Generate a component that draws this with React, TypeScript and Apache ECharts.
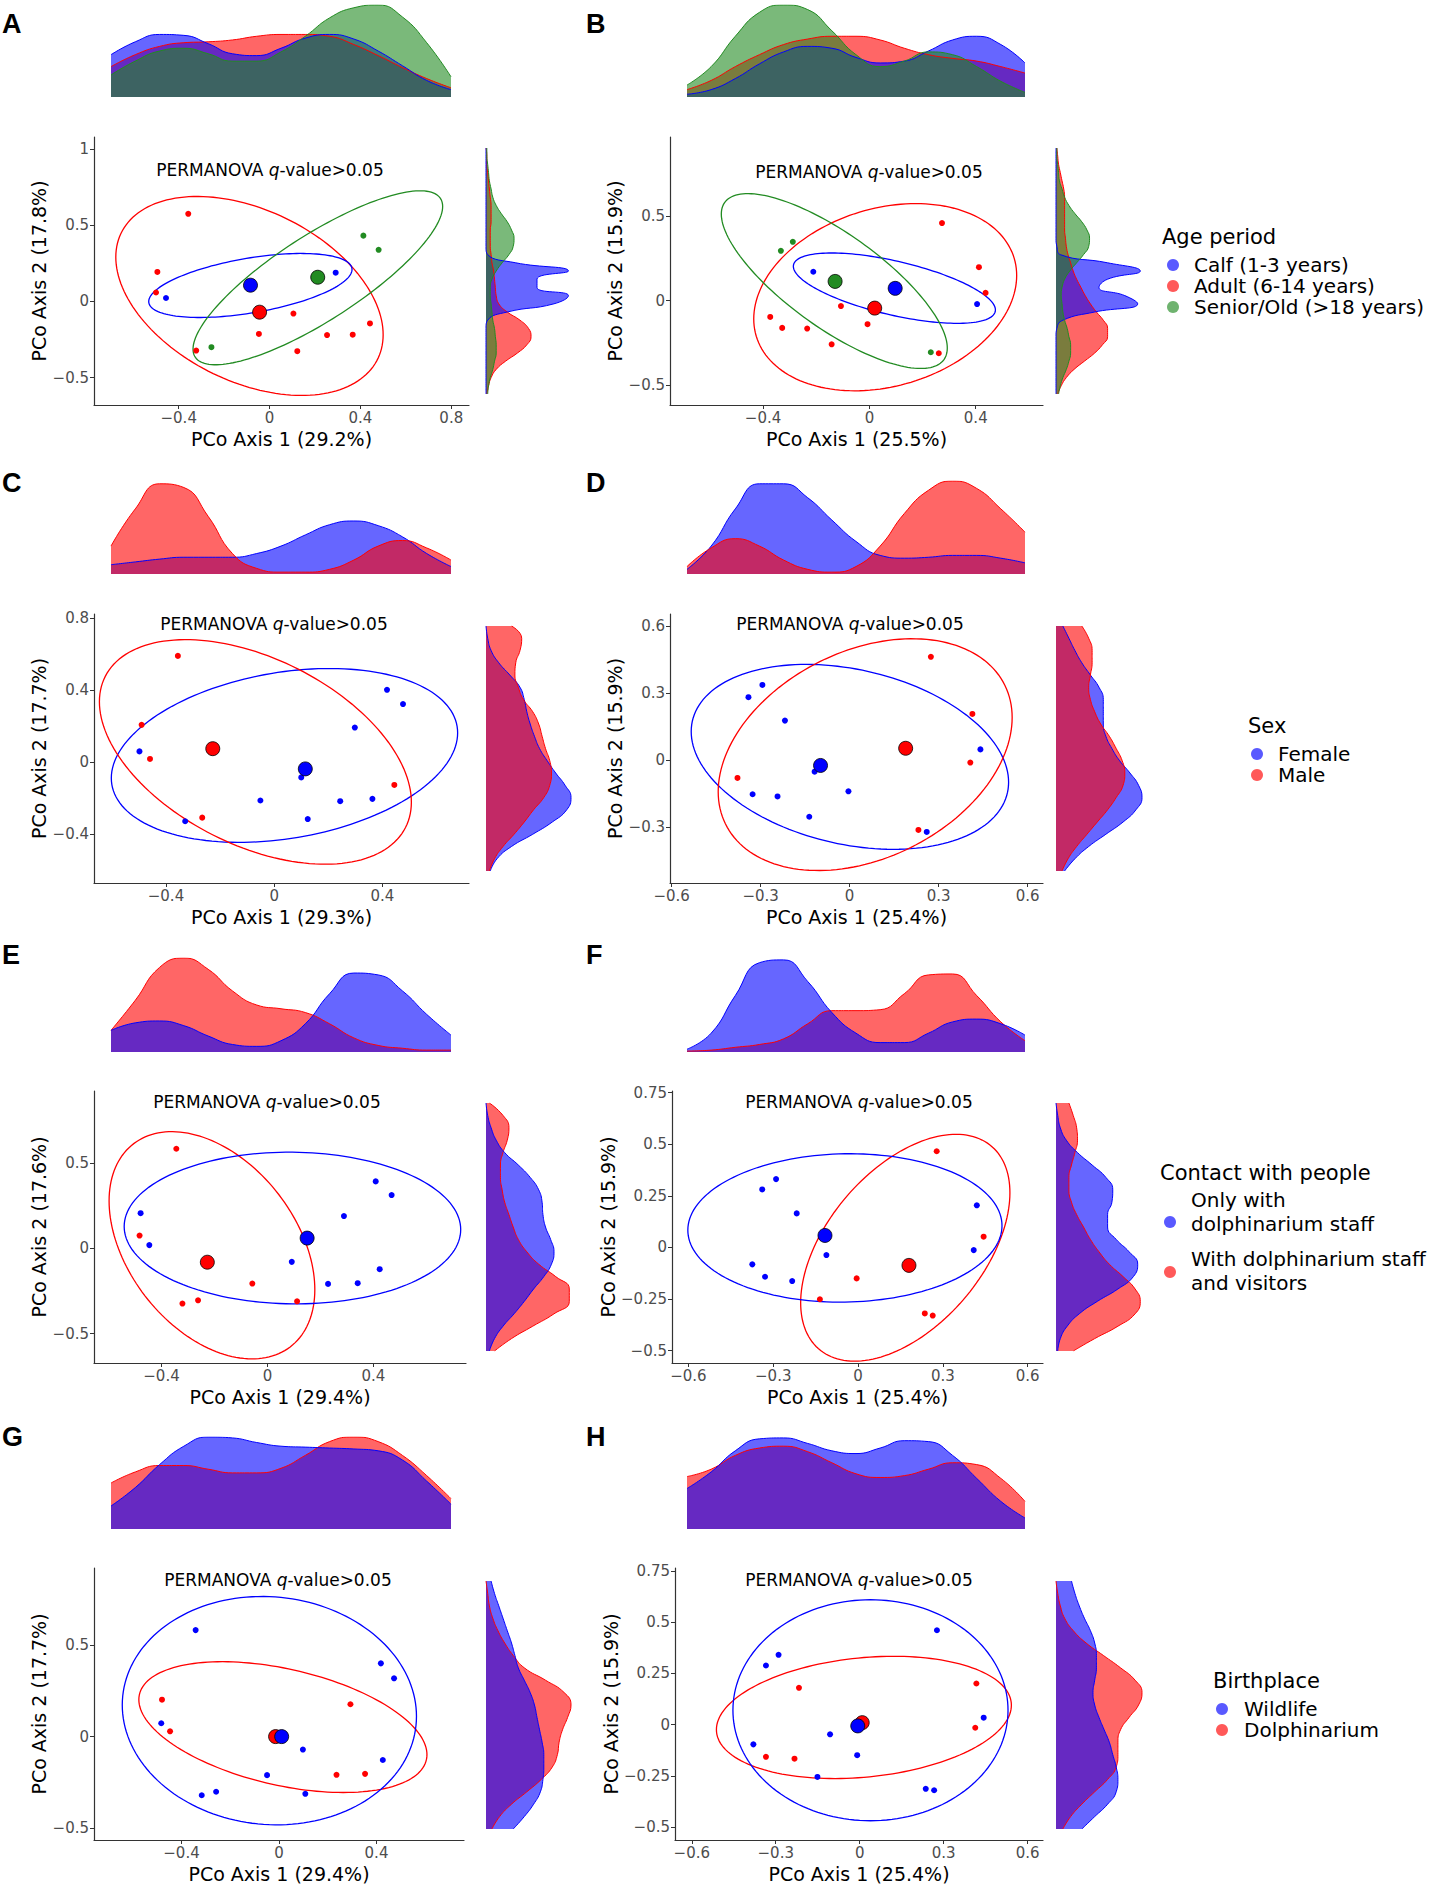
import React, { useEffect, useRef } from "react";
import * as echarts from "echarts";

const BLUE = "#0000FF";
const RED = "#FF0000";
const GREEN = "#228B22";
const FONT = "DejaVu Sans";

// ---------- Panel A (Age period, axis 29.2% / 17.8%) ----------
const A_calf = [[-0.456, 0.022], [0.291, 0.188]];
const A_adult = [[-0.358, 0.574], [-0.494, 0.193], [-0.5, 0.058], [0.105, -0.08], [-0.047, -0.214], [0.253, -0.221], [0.366, -0.219], [0.442, -0.145], [-0.323, -0.323], [0.122, -0.327]];
const A_senior = [[0.413, 0.431], [0.48, 0.338], [-0.256, -0.301]];
const A_cen = { calf: [-0.084, 0.106], adult: [-0.044, -0.071], senior: [0.212, 0.158] };
const A_ell = { adult: [-0.0885, 0.0355, 0.5885, 0.6525, -0.39], calf: [-0.0845, 0.104, 0.4475, 0.21, 0.5], senior: [0.2125, 0.1545, 0.5495, 0.5705, 0.82] };
const A_topAdult = [0.33, 0.46, 0.55, 0.59, 0.6, 0.62, 0.66, 0.68, 0.68, 0.66, 0.57, 0.45, 0.32, 0.2, 0.1];
const A_topCalf = [0.46, 0.6, 0.68, 0.67, 0.58, 0.47, 0.45, 0.53, 0.64, 0.68, 0.63, 0.5, 0.34, 0.18, 0.08];
const A_topSenior = [0.24, 0.39, 0.5, 0.53, 0.47, 0.39, 0.39, 0.49, 0.66, 0.86, 0.97, 1.0, 0.87, 0.59, 0.22];
const A_rightAdult = [0, 0.01, 0.01, 0.02, 0.03, 0.04, 0.05, 0.06, 0.06, 0.06, 0.05, 0.05, 0.05, 0.06, 0.07, 0.09, 0.1, 0.11, 0.12, 0.15, 0.25, 0.4, 0.5, 0.53, 0.48, 0.37, 0.23, 0.12, 0.06, 0.03, 0.01];
const A_rightCalf = [0, 0, 0, 0, 0, 0, 0, 0, 0, 0, 0, 0, 0, 0.02, 0.35, 0.97, 0.6, 0.6, 0.97, 0.8, 0.25, 0.02, 0, 0, 0, 0, 0, 0, 0, 0, 0];
const A_rightSenior = [0.01, 0.01, 0.02, 0.03, 0.04, 0.06, 0.08, 0.12, 0.18, 0.25, 0.3, 0.33, 0.32, 0.27, 0.19, 0.12, 0.07, 0.05, 0.05, 0.06, 0.07, 0.08, 0.1, 0.11, 0.12, 0.12, 0.1, 0.08, 0.05, 0.03, 0.02];

// ---------- Panel B (Age period, 25.5% / 15.9%) ----------
const B_calf = [[-0.211, 0.17], [0.405, -0.021]];
const B_adult = [[0.273, 0.458], [0.412, 0.197], [0.437, 0.045], [-0.107, -0.033], [-0.007, -0.14], [-0.373, -0.097], [-0.328, -0.162], [-0.234, -0.166], [-0.142, -0.259], [0.261, -0.312]];
const B_senior = [[-0.288, 0.347], [-0.333, 0.294], [0.231, -0.306]];
const B_cen = { calf: [0.097, 0.072], adult: [0.02, -0.045], senior: [-0.129, 0.113] };
const B_ell = { adult: [0.0595, 0.0195, 0.4945, 0.5535, 0.232], calf: [0.094, 0.073, 0.38, 0.208, -0.62], senior: [-0.132, 0.115, 0.425, 0.517, -0.766] };
const B_topAdult = [0.08, 0.18, 0.33, 0.46, 0.57, 0.63, 0.66, 0.66, 0.62, 0.53, 0.46, 0.42, 0.39, 0.33, 0.26];
const B_topCalf = [0.03, 0.08, 0.2, 0.36, 0.49, 0.55, 0.53, 0.43, 0.37, 0.39, 0.5, 0.62, 0.66, 0.57, 0.37];
const B_topSenior = [0.13, 0.33, 0.66, 0.92, 1.0, 0.95, 0.72, 0.46, 0.33, 0.39, 0.49, 0.46, 0.33, 0.17, 0.05];
const B_rightAdult = [0.01, 0.02, 0.03, 0.05, 0.07, 0.09, 0.1, 0.1, 0.1, 0.1, 0.1, 0.11, 0.12, 0.14, 0.17, 0.2, 0.24, 0.29, 0.34, 0.4, 0.47, 0.55, 0.6, 0.6, 0.54, 0.45, 0.33, 0.21, 0.12, 0.06, 0.02];
const B_rightCalf = [0, 0, 0, 0, 0, 0, 0, 0, 0, 0, 0, 0, 0.01, 0.05, 0.6, 0.98, 0.6, 0.5, 0.8, 0.95, 0.45, 0.08, 0.01, 0, 0, 0, 0, 0, 0, 0, 0];
const B_rightSenior = [0.01, 0.01, 0.02, 0.03, 0.04, 0.07, 0.1, 0.15, 0.22, 0.3, 0.36, 0.39, 0.38, 0.32, 0.24, 0.16, 0.1, 0.07, 0.06, 0.07, 0.08, 0.1, 0.13, 0.15, 0.17, 0.17, 0.15, 0.12, 0.08, 0.05, 0.03];

// ---------- Panel C (Sex, 29.3% / 17.7%) ----------
const C_female = [[-0.498, 0.06], [-0.329, -0.327], [-0.051, -0.212], [0.1, -0.084], [0.124, -0.315], [0.244, -0.216], [0.298, 0.192], [0.363, -0.203], [0.417, 0.401], [0.476, 0.322]];
const C_male = [[-0.356, 0.589], [-0.49, 0.207], [-0.459, 0.018], [-0.266, -0.307], [0.444, -0.126]];
const C_cen = { female: [0.115, -0.037], male: [-0.227, 0.075] };
const C_ell = { male: [-0.0695, 0.057, 0.5765, 0.622, -0.447], female: [0.038, 0.0375, 0.64, 0.4815, 0.26] };
const C_topFemale = [0.1, 0.13, 0.16, 0.18, 0.18, 0.18, 0.22, 0.3, 0.42, 0.53, 0.57, 0.52, 0.4, 0.22, 0.08];
const C_topMale = [0.3, 0.7, 0.97, 0.93, 0.62, 0.22, 0.06, 0.02, 0.02, 0.05, 0.15, 0.3, 0.36, 0.28, 0.15];
const C_rightFemale = [0, 0.02, 0.06, 0.15, 0.28, 0.4, 0.45, 0.48, 0.52, 0.57, 0.63, 0.72, 0.82, 0.93, 1.0, 0.95, 0.78, 0.55, 0.3, 0.13, 0.05];
const C_rightMale = [0.3, 0.42, 0.4, 0.35, 0.34, 0.38, 0.44, 0.55, 0.62, 0.66, 0.7, 0.75, 0.77, 0.75, 0.68, 0.56, 0.45, 0.33, 0.2, 0.1, 0.04];

// ---------- Panel D (Sex, 25.4% / 15.9%) ----------
const D_female = [[-0.341, 0.281], [-0.294, 0.336], [-0.218, 0.176], [-0.327, -0.154], [-0.243, -0.164], [-0.136, -0.255], [-0.004, -0.141], [0.26, -0.323], [0.441, 0.047], [-0.118, -0.053]];
const D_male = [[0.274, 0.462], [0.414, 0.206], [0.407, -0.012], [-0.378, -0.081], [0.232, -0.314]];
const D_cen = { female: [-0.098, -0.025], male: [0.189, 0.052] };
const D_ell = { female: [0.001, 0.0135, 0.535, 0.4145, -0.274], male: [0.0525, 0.0235, 0.4955, 0.5195, 0.32] };
const D_topFemale = [0.05, 0.3, 0.7, 0.97, 0.97, 0.82, 0.58, 0.35, 0.2, 0.17, 0.18, 0.2, 0.2, 0.17, 0.12];
const D_topMale = [0.08, 0.28, 0.38, 0.3, 0.15, 0.05, 0.02, 0.08, 0.3, 0.65, 0.9, 1.0, 0.92, 0.7, 0.45];
const D_rightFemale = [0.08, 0.15, 0.22, 0.3, 0.4, 0.5, 0.55, 0.55, 0.55, 0.58, 0.65, 0.74, 0.86, 0.96, 1.0, 0.93, 0.78, 0.58, 0.38, 0.22, 0.1];
const D_rightMale = [0.3, 0.38, 0.42, 0.42, 0.4, 0.38, 0.4, 0.45, 0.52, 0.62, 0.7, 0.77, 0.8, 0.78, 0.7, 0.6, 0.48, 0.36, 0.24, 0.14, 0.07];

// ---------- Panel E (Contact, 29.4% / 17.6%) ----------
const E_staff = [[-0.479, 0.205], [-0.446, 0.018], [0.092, -0.08], [0.229, -0.209], [0.341, -0.205], [0.424, -0.123], [0.289, 0.188], [0.409, 0.391], [0.469, 0.311]];
const E_visitors = [[-0.344, 0.582], [-0.483, 0.074], [-0.057, -0.207], [-0.321, -0.324], [-0.262, -0.305], [0.112, -0.311]];
const E_cen = { staff: [0.15, 0.059], visitors: [-0.227, -0.082] };
const E_ell = { visitors: [-0.2095, 0.017, 0.3885, 0.665, -0.39], staff: [0.0945, 0.118, 0.6355, 0.444, -0.02] };
const E_topVisitors = [0.23, 0.55, 0.9, 1.0, 0.88, 0.65, 0.5, 0.46, 0.42, 0.3, 0.15, 0.07, 0.04, 0.02, 0.02];
const E_topStaff = [0.23, 0.31, 0.33, 0.28, 0.17, 0.08, 0.06, 0.12, 0.3, 0.62, 0.84, 0.82, 0.65, 0.4, 0.18];
const E_rightVisitors = [0.04, 0.2, 0.27, 0.25, 0.2, 0.17, 0.17, 0.19, 0.22, 0.27, 0.32, 0.38, 0.48, 0.62, 0.82, 0.98, 0.98, 0.8, 0.55, 0.3, 0.1];
const E_rightStaff = [0, 0.02, 0.06, 0.12, 0.22, 0.38, 0.52, 0.62, 0.66, 0.67, 0.7, 0.76, 0.8, 0.77, 0.68, 0.56, 0.45, 0.33, 0.2, 0.1, 0.04];

// ---------- Panel F (Contact, 25.4% / 15.9%) ----------
const F_staff = [[-0.339, 0.281], [-0.29, 0.331], [-0.217, 0.165], [-0.374, -0.082], [-0.329, -0.142], [-0.233, -0.163], [-0.112, -0.037], [0.42, 0.204], [0.409, -0.013]];
const F_visitors = [[0.278, 0.466], [0.444, 0.052], [-0.005, -0.15], [-0.135, -0.251], [0.236, -0.32], [0.264, -0.33]];
const F_cen = { staff: [-0.117, 0.058], visitors: [0.18, -0.087] };
const F_ell = { staff: [-0.0465, 0.0945, 0.5555, 0.3595, 0.03], visitors: [0.167, -0.0015, 0.37, 0.5495, 0.485] };
const F_topVisitors = [0.01, 0.02, 0.05, 0.08, 0.14, 0.3, 0.44, 0.44, 0.45, 0.62, 0.82, 0.83, 0.6, 0.32, 0.12];
const F_topStaff = [0.03, 0.2, 0.6, 0.95, 0.98, 0.75, 0.42, 0.2, 0.1, 0.1, 0.2, 0.32, 0.35, 0.3, 0.18];
const F_rightVisitors = [0.15, 0.2, 0.24, 0.25, 0.22, 0.18, 0.15, 0.15, 0.18, 0.24, 0.32, 0.4, 0.5, 0.62, 0.78, 0.92, 0.98, 0.92, 0.72, 0.45, 0.2];
const F_rightStaff = [0, 0.02, 0.05, 0.12, 0.25, 0.42, 0.58, 0.66, 0.65, 0.6, 0.6, 0.7, 0.85, 0.95, 0.9, 0.72, 0.48, 0.27, 0.13, 0.05, 0.02];

// ---------- Panel G (Birthplace, 29.4% / 17.7%) ----------
const G_wild = [[-0.342, 0.583], [0.418, 0.401], [0.472, 0.319], [-0.483, 0.073], [0.098, -0.071], [0.426, -0.128], [-0.049, -0.211], [-0.317, -0.321], [-0.258, -0.302], [0.108, -0.313]];
const G_dolph = [[-0.48, 0.202], [-0.447, 0.029], [0.293, 0.177], [0.236, -0.209], [0.353, -0.204]];
const G_cen = { wild: [0.011, 0.0], dolph: [-0.014, 0.0] };
const G_ell = { wild: [-0.0395, 0.142, 0.6035, 0.625, -0.05], dolph: [0.016, 0.052, 0.591, 0.358, -0.42] };
const G_topDolph = [0.5, 0.62, 0.69, 0.69, 0.65, 0.61, 0.61, 0.66, 0.8, 0.95, 1.0, 0.95, 0.8, 0.58, 0.33];
const G_topWild = [0.25, 0.45, 0.7, 0.9, 1.0, 0.99, 0.94, 0.9, 0.89, 0.88, 0.87, 0.85, 0.75, 0.52, 0.27];
const G_rightDolph = [0, 0.02, 0.04, 0.08, 0.14, 0.22, 0.32, 0.45, 0.7, 0.92, 1.0, 0.96, 0.9, 0.86, 0.84, 0.78, 0.65, 0.48, 0.3, 0.16, 0.07];
const G_rightWild = [0.06, 0.1, 0.15, 0.2, 0.25, 0.3, 0.34, 0.38, 0.45, 0.52, 0.57, 0.6, 0.63, 0.66, 0.68, 0.68, 0.67, 0.64, 0.56, 0.45, 0.32];

// ---------- Panel H (Birthplace, 25.4% / 15.9%) ----------
const H_wild = [[0.276, 0.461], [-0.29, 0.341], [-0.335, 0.289], [0.443, 0.034], [-0.106, -0.047], [-0.38, -0.096], [-0.009, -0.149], [-0.151, -0.255], [0.236, -0.313], [0.266, -0.32]];
const H_dolph = [[-0.217, 0.18], [0.417, 0.201], [0.413, -0.015], [-0.335, -0.157], [-0.233, -0.166]];
const H_cen = { wild: [-0.007, -0.006], dolph: [0.009, 0.01] };
const H_ell = { wild: [0.0385, 0.0705, 0.4915, 0.5395, 0.0], dolph: [0.015, 0.0355, 0.527, 0.2985, 0.2] };
const H_topDolph = [0.57, 0.65, 0.8, 0.88, 0.9, 0.84, 0.72, 0.6, 0.56, 0.58, 0.65, 0.72, 0.7, 0.55, 0.3];
const H_topWild = [0.44, 0.62, 0.85, 0.98, 0.99, 0.93, 0.85, 0.82, 0.88, 0.96, 0.95, 0.8, 0.55, 0.3, 0.12];
const H_rightDolph = [0, 0.02, 0.05, 0.1, 0.2, 0.35, 0.55, 0.75, 0.92, 1.0, 0.96, 0.85, 0.75, 0.72, 0.72, 0.7, 0.6, 0.45, 0.3, 0.17, 0.08];
const H_rightWild = [0.18, 0.22, 0.27, 0.33, 0.4, 0.45, 0.47, 0.47, 0.45, 0.43, 0.45, 0.5, 0.56, 0.62, 0.66, 0.7, 0.72, 0.7, 0.6, 0.45, 0.3];

// ---------- axis ranges & ticks ----------
const A_xRange = [-0.773, 0.878], A_yRange = [-0.68, 1.078];
const B_xRange = [-0.75, 0.653], B_yRange = [-0.618, 0.967];
const C_xRange = [-0.666, 0.72], C_yRange = [-0.669, 0.821];
const D_xRange = [-0.6055, 0.652], D_yRange = [-0.552, 0.654];
const E_xRange = [-0.655, 0.75], E_yRange = [-0.672, 0.92];
const F_xRange = [-0.658, 0.654], F_yRange = [-0.56, 0.758];
const G_xRange = [-0.759, 0.759], G_yRange = [-0.566, 0.923];
const H_xRange = [-0.66, 0.655], H_yRange = [-0.563, 0.765];
const ticksX4 = [-0.4, 0, 0.4];
const ticksX8 = [-0.4, 0, 0.4, 0.8];
const ticksX3 = [-0.6, -0.3, 0, 0.3, 0.6];
const ticksY5 = [-0.5, 0, 0.5];
const ticksY5b = [-0.5, 0, 0.5, 1];
const ticksY4 = [-0.4, 0, 0.4, 0.8];
const ticksY3 = [-0.3, 0, 0.3, 0.6];
const ticksY25 = [-0.5, -0.25, 0, 0.25, 0.5, 0.75];

type G = { color: string; pts: number[][]; cen: number[]; ell: number[]; top: number[]; right: number[] };
type Box = { left: number; top: number; width: number; height: number };
type P = {
  letter: string; xName: string; yName: string; xRange: number[]; yRange: number[]; xTicks: number[]; yTicks: number[];
  sc: Box; tp: Box; rt: Box; letterPos: number[]; permPos: number[]; densOrder: G[]; ptOrder: G[];
};

const mk = (color: string, pts: number[][], cen: number[], ell: number[], top: number[], right: number[]): G => ({ color, pts, cen, ell, top, right });

function buildPanels(): P[] {
  const aCalf = mk(BLUE, A_calf, A_cen.calf, A_ell.calf, A_topCalf, A_rightCalf);
  const aAdult = mk(RED, A_adult, A_cen.adult, A_ell.adult, A_topAdult, A_rightAdult);
  const aSen = mk(GREEN, A_senior, A_cen.senior, A_ell.senior, A_topSenior, A_rightSenior);
  const bCalf = mk(BLUE, B_calf, B_cen.calf, B_ell.calf, B_topCalf, B_rightCalf);
  const bAdult = mk(RED, B_adult, B_cen.adult, B_ell.adult, B_topAdult, B_rightAdult);
  const bSen = mk(GREEN, B_senior, B_cen.senior, B_ell.senior, B_topSenior, B_rightSenior);
  const cF = mk(BLUE, C_female, C_cen.female, C_ell.female, C_topFemale, C_rightFemale);
  const cM = mk(RED, C_male, C_cen.male, C_ell.male, C_topMale, C_rightMale);
  const dF = mk(BLUE, D_female, D_cen.female, D_ell.female, D_topFemale, D_rightFemale);
  const dM = mk(RED, D_male, D_cen.male, D_ell.male, D_topMale, D_rightMale);
  const eS = mk(BLUE, E_staff, E_cen.staff, E_ell.staff, E_topStaff, E_rightStaff);
  const eV = mk(RED, E_visitors, E_cen.visitors, E_ell.visitors, E_topVisitors, E_rightVisitors);
  const fS = mk(BLUE, F_staff, F_cen.staff, F_ell.staff, F_topStaff, F_rightStaff);
  const fV = mk(RED, F_visitors, F_cen.visitors, F_ell.visitors, F_topVisitors, F_rightVisitors);
  const gW = mk(BLUE, G_wild, G_cen.wild, G_ell.wild, G_topWild, G_rightWild);
  const gD = mk(RED, G_dolph, G_cen.dolph, G_ell.dolph, G_topDolph, G_rightDolph);
  const hW = mk(BLUE, H_wild, H_cen.wild, H_ell.wild, H_topWild, H_rightWild);
  const hD = mk(RED, H_dolph, H_cen.dolph, H_ell.dolph, H_topDolph, H_rightDolph);

  const rows = [
    { tpTop: 5, tpH: 92, rtTop: 148, rtH: 246, letterY: 24 },
    { tpTop: 481, tpH: 93, rtTop: 626, rtH: 245, letterY: 483 },
    { tpTop: 958, tpH: 94, rtTop: 1103, rtH: 248, letterY: 955 },
    { tpTop: 1437, tpH: 92, rtTop: 1581, rtH: 248, letterY: 1437 },
  ];
  const L = (r: number) => ({ tp: { left: 111, top: rows[r].tpTop, width: 340, height: rows[r].tpH }, rt: { left: 486, top: rows[r].rtTop, width: 85, height: rows[r].rtH } });
  const R = (r: number) => ({ tp: { left: 687, top: rows[r].tpTop, width: 338, height: rows[r].tpH }, rt: { left: 1056, top: rows[r].rtTop, width: 86, height: rows[r].rtH } });

  return [
    { letter: "A", xName: "PCo Axis 1 (29.2%)", yName: "PCo Axis 2 (17.8%)", xRange: A_xRange, yRange: A_yRange, xTicks: ticksX8, yTicks: ticksY5b,
      sc: { left: 94, top: 137, width: 375, height: 268 }, ...L(0), letterPos: [2, rows[0].letterY], permPos: [270, 170],
      densOrder: [aAdult, aCalf, aSen], ptOrder: [aAdult, aCalf, aSen] },
    { letter: "B", xName: "PCo Axis 1 (25.5%)", yName: "PCo Axis 2 (15.9%)", xRange: B_xRange, yRange: B_yRange, xTicks: ticksX4, yTicks: ticksY5,
      sc: { left: 670, top: 137, width: 373, height: 268 }, ...R(0), letterPos: [586, rows[0].letterY], permPos: [869, 172],
      densOrder: [bAdult, bCalf, bSen], ptOrder: [bAdult, bCalf, bSen] },
    { letter: "C", xName: "PCo Axis 1 (29.3%)", yName: "PCo Axis 2 (17.7%)", xRange: C_xRange, yRange: C_yRange, xTicks: ticksX4, yTicks: ticksY4,
      sc: { left: 94, top: 614, width: 375, height: 269 }, ...L(1), letterPos: [2, rows[1].letterY], permPos: [274, 624],
      densOrder: [cF, cM], ptOrder: [cF, cM] },
    { letter: "D", xName: "PCo Axis 1 (25.4%)", yName: "PCo Axis 2 (15.9%)", xRange: D_xRange, yRange: D_yRange, xTicks: ticksX3, yTicks: ticksY3,
      sc: { left: 670, top: 614, width: 373, height: 269 }, ...R(1), letterPos: [586, rows[1].letterY], permPos: [850, 624],
      densOrder: [dF, dM], ptOrder: [dF, dM] },
    { letter: "E", xName: "PCo Axis 1 (29.4%)", yName: "PCo Axis 2 (17.6%)", xRange: E_xRange, yRange: E_yRange, xTicks: ticksX4, yTicks: ticksY5,
      sc: { left: 94, top: 1091, width: 372, height: 272 }, ...L(2), letterPos: [2, rows[2].letterY], permPos: [267, 1102],
      densOrder: [eV, eS], ptOrder: [eV, eS] },
    { letter: "F", xName: "PCo Axis 1 (25.4%)", yName: "PCo Axis 2 (15.9%)", xRange: F_xRange, yRange: F_yRange, xTicks: ticksX3, yTicks: ticksY25,
      sc: { left: 672, top: 1091, width: 371, height: 272 }, ...R(2), letterPos: [586, rows[2].letterY], permPos: [859, 1102],
      densOrder: [fV, fS], ptOrder: [fV, fS] },
    { letter: "G", xName: "PCo Axis 1 (29.4%)", yName: "PCo Axis 2 (17.7%)", xRange: G_xRange, yRange: G_yRange, xTicks: ticksX4, yTicks: ticksY5,
      sc: { left: 94, top: 1568, width: 370, height: 273 }, ...L(3), letterPos: [2, rows[3].letterY], permPos: [278, 1580],
      densOrder: [gD, gW], ptOrder: [gD, gW] },
    { letter: "H", xName: "PCo Axis 1 (25.4%)", yName: "PCo Axis 2 (15.9%)", xRange: H_xRange, yRange: H_yRange, xTicks: ticksX3, yTicks: ticksY25,
      sc: { left: 675, top: 1568, width: 368, height: 273 }, ...R(3), letterPos: [586, rows[3].letterY], permPos: [859, 1580],
      densOrder: [hD, hW], ptOrder: [hD, hW] },
  ];
}

const fmt = (v: number) => {
  const r = Math.round(v * 100) / 100;
  return (r < 0 ? "\u2212" : "") + String(Math.abs(r));
};

function ellipseRender(color: string) {
  return (params: any, api: any) => {
    const cx = api.value(0), cy = api.value(1), rx = api.value(2), ry = api.value(3), s = api.value(4);
    const c = Math.sqrt(Math.max(0, 1 - s * s));
    const pts: number[][] = [];
    const n = 160;
    for (let i = 0; i < n; i++) {
      const t = (i / n) * Math.PI * 2;
      const x = cx + rx * Math.cos(t);
      const y = cy + ry * (Math.sin(t) * c + Math.cos(t) * s);
      pts.push(api.coord([x, y]));
    }
    return { type: "polygon", shape: { points: pts }, style: { fill: "none", stroke: color, lineWidth: 1.3 } };
  };
}

function buildOption() {
  const panels = buildPanels();
  const grid: any[] = [], xAxis: any[] = [], yAxis: any[] = [], series: any[] = [], graphic: any[] = [];
  const axisCommon = {
    splitLine: { show: false },
    axisLine: { show: true, onZero: false, lineStyle: { color: "#333333", width: 1.2 } },
  };
  panels.forEach((p) => {
    const gi = grid.length;
    grid.push({ ...p.sc, containLabel: false });
    xAxis.push({
      type: "value", gridIndex: gi, min: p.xRange[0], max: p.xRange[1], ...axisCommon,
      axisTick: { show: true, length: 4, lineStyle: { color: "#333333" }, customValues: p.xTicks },
      axisLabel: { customValues: p.xTicks, formatter: fmt, fontSize: 15, color: "#4D4D4D", fontFamily: FONT, margin: 5 },
      name: p.xName, nameLocation: "middle", nameGap: 24, nameTextStyle: { fontSize: 19, color: "#000", fontFamily: FONT },
    });
    yAxis.push({
      type: "value", gridIndex: gi, min: p.yRange[0], max: p.yRange[1], ...axisCommon,
      axisTick: { show: true, length: 4, lineStyle: { color: "#333333" }, customValues: p.yTicks },
      axisLabel: { customValues: p.yTicks, formatter: fmt, fontSize: 15, color: "#4D4D4D", fontFamily: FONT, margin: 5 },
      name: p.yName, nameLocation: "middle", nameGap: 44, nameTextStyle: { fontSize: 19, color: "#000", fontFamily: FONT },
    });
    p.ptOrder.forEach((g) => {
      series.push({ type: "custom", xAxisIndex: gi, yAxisIndex: gi, data: [g.ell], renderItem: ellipseRender(g.color), silent: true, clip: false, z: 2 });
    });
    p.ptOrder.forEach((g) => {
      series.push({ type: "scatter", xAxisIndex: gi, yAxisIndex: gi, data: g.pts, symbolSize: 6, itemStyle: { color: g.color, opacity: 1 }, z: 3, silent: true });
    });
    p.ptOrder.forEach((g) => {
      series.push({ type: "scatter", xAxisIndex: gi, yAxisIndex: gi, data: [g.cen], symbolSize: 14, itemStyle: { color: g.color, opacity: 1, borderColor: "#000", borderWidth: 0.8 }, z: 4, silent: true });
    });

    const ti = grid.length;
    grid.push({ ...p.tp, containLabel: false });
    const nTop = p.densOrder[0].top.length;
    xAxis.push({ type: "category", gridIndex: ti, data: Array.from({ length: nTop }, (_, i) => String(i)), boundaryGap: false, show: false });
    yAxis.push({ type: "value", gridIndex: ti, min: 0, max: 1, show: false });
    p.densOrder.forEach((g) => {
      series.push({ type: "line", xAxisIndex: ti, yAxisIndex: ti, data: g.top, smooth: 0.5, symbol: "none", silent: true,
        lineStyle: { color: g.color, width: 1 }, areaStyle: { color: g.color, opacity: 0.6 } });
    });

    const ri = grid.length;
    grid.push({ ...p.rt, containLabel: false });
    const nR = p.densOrder[0].right.length;
    xAxis.push({ type: "value", gridIndex: ri, min: 0, max: 1, show: false });
    yAxis.push({ type: "category", gridIndex: ri, data: Array.from({ length: nR }, (_, i) => String(i)), boundaryGap: false, inverse: true, show: false });
    p.densOrder.forEach((g) => {
      series.push({ type: "line", xAxisIndex: ri, yAxisIndex: ri, data: g.right, smooth: 0.5, symbol: "none", silent: true,
        lineStyle: { color: g.color, width: 1 }, areaStyle: { color: g.color, opacity: 0.6 } });
    });

    graphic.push({ type: "text", x: p.letterPos[0], y: p.letterPos[1], style: { text: p.letter, fontSize: 27, fontWeight: "bold", fontFamily: "Liberation Sans", fill: "#000", verticalAlign: "middle" } });
    graphic.push({ type: "text", x: p.permPos[0], y: p.permPos[1], style: {
      text: "{n|PERMANOVA }{i|q}{n|-value>0.05}", align: "center", verticalAlign: "middle",
      rich: { n: { fontSize: 17, fontFamily: FONT, fill: "#000" }, i: { fontSize: 17, fontFamily: FONT, fontStyle: "italic", fill: "#000" } },
    } });
  });

  const legTitle = (x: number, y: number, t: string) => graphic.push({ type: "text", x, y, style: { text: t, fontSize: 21, fontFamily: FONT, fill: "#000", verticalAlign: "middle" } });
  const legText = (x: number, y: number, t: string) => graphic.push({ type: "text", x, y, style: { text: t, fontSize: 20, lineHeight: 24, fontFamily: FONT, fill: "#000", verticalAlign: "middle" } });
  const legDot = (x: number, y: number, c: string) => graphic.push({ type: "circle", shape: { cx: x, cy: y, r: 6 }, style: { fill: c, opacity: 0.65 } });

  legTitle(1162, 237, "Age period");
  legDot(1173, 265, BLUE); legText(1194, 265, "Calf (1-3 years)");
  legDot(1173, 286, RED); legText(1194, 286, "Adult (6-14 years)");
  legDot(1173, 307, GREEN); legText(1194, 307, "Senior/Old (>18 years)");

  legTitle(1248, 726, "Sex");
  legDot(1257, 754, BLUE); legText(1278, 754, "Female");
  legDot(1257, 775, RED); legText(1278, 775, "Male");

  legTitle(1160, 1173, "Contact with people");
  legDot(1170, 1222, BLUE); legText(1191, 1212, "Only with\ndolphinarium staff");
  legDot(1170, 1272, RED); legText(1191, 1271, "With dolphinarium staff\nand visitors");

  legTitle(1213, 1681, "Birthplace");
  legDot(1222, 1709, BLUE); legText(1244, 1709, "Wildlife");
  legDot(1222, 1730, RED); legText(1244, 1730, "Dolphinarium");

  return { animation: false, backgroundColor: "#ffffff", grid, xAxis, yAxis, series, graphic };
}

export default function App() {
  const ref = useRef<HTMLDivElement>(null);
  useEffect(() => {
    if (!ref.current) return;
    const chart = echarts.init(ref.current, undefined, { renderer: "svg" });
    chart.setOption(buildOption() as any);
    return () => chart.dispose();
  }, []);
  return <div ref={ref} style={{ position: "absolute", left: 0, top: 0, width: 1444, height: 1884, background: "#fff" }} />;
}
